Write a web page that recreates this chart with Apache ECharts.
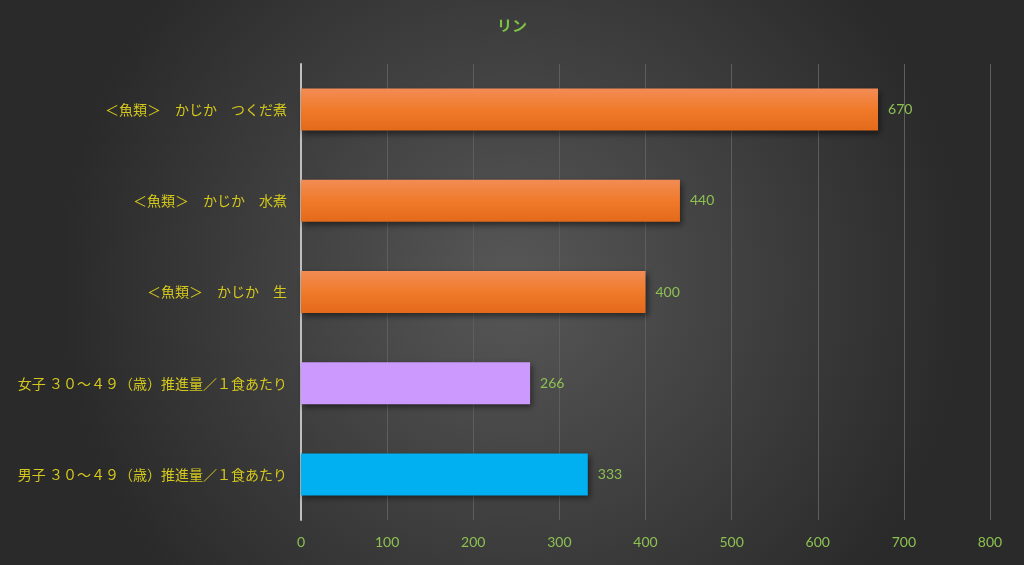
<!DOCTYPE html>
<html><head><meta charset="utf-8">
<script src="https://cdn.jsdelivr.net/npm/echarts@6/dist/echarts.min.js"></script>
<style>html,body{margin:0;padding:0;}#c{width:1024px;height:565px;}</style>
</head><body><div id="c"></div>
<script>
const categories = ['＜魚類＞　かじか　つくだ煮','＜魚類＞　かじか　水煮','＜魚類＞　かじか　生','女子 ３０～４９（歳）推進量／１食あたり','男子 ３０～４９（歳）推進量／１食あたり'];
const values = [670, 440, 400, 266, 333];
const xTicks = {min: 0, max: 800, interval: 100};
const orange = {type:'linear',x:0,y:0,x2:0,y2:1,colorStops:[{offset:0,color:'#f28c55'},{offset:0.5,color:'#f07a2a'},{offset:1,color:'#e4691b'}]};
const colors = [orange, orange, orange, '#cc99ff', '#00b0f0'];
const chart = echarts.init(document.getElementById('c'));
chart.setOption({
  backgroundColor: {type:'radial',x:0.5,y:0.5,r:0.8,colorStops:[{offset:0,color:'#575757'},{offset:1,color:'#2a2a2a'}]},
  title: {text:'リン', left:'center', top:13, textStyle:{color:'#7dc242', fontSize:15, fontWeight:'bold', fontFamily:'Noto Sans CJK JP'}},
  grid: {left:301, right:34, top:64, bottom:45},
  xAxis: {type:'value', min:xTicks.min, max:xTicks.max, interval:xTicks.interval,
    axisLine:{show:false}, axisTick:{show:false},
    splitLine:{lineStyle:{color:'#5e5e5e', width:1}},
    axisLabel:{color:'#8cc152', fontSize:14, margin:15, fontFamily:'Lato'}},
  yAxis: {type:'category', data:categories, inverse:true,
    axisLine:{lineStyle:{color:'#bfbfbf', width:2}}, axisTick:{show:false},
    axisLabel:{color:'#d4c81c', fontSize:14, margin:14, fontFamily:'Noto Sans CJK JP'}},
  series: [{type:'bar', barWidth:42,
    data: values.map((v,i)=>({value:v, itemStyle:{color:colors[i]}})),
    itemStyle:{shadowColor:'rgba(0,0,0,0.5)', shadowBlur:6, shadowOffsetX:2, shadowOffsetY:3},
    label:{show:true, position:'right', distance:10, color:'#8cc152', fontSize:14, fontFamily:'Lato'}}]
});
</script></body></html>
